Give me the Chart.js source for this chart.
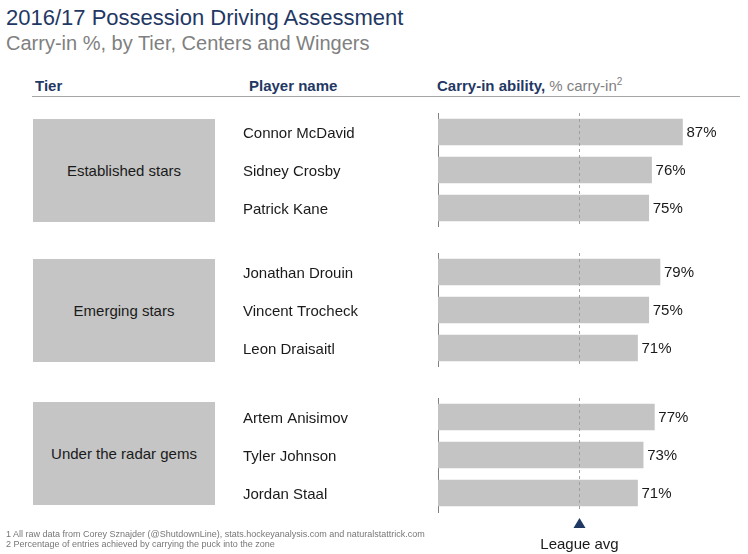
<!DOCTYPE html>
<html>
<head>
<meta charset="utf-8">
<script src="https://cdn.jsdelivr.net/npm/chart.js@4"></script>
<style>
  body { margin: 0; background: #fff; font-family: "Liberation Sans", Arial, sans-serif; }
  #page { position: relative; width: 748px; height: 554px; overflow: hidden; }
  .title { position: absolute; left: 6px; top: 5px; font-size: 22px; line-height: 25px; color: #1f3864; }
  .subtitle { position: absolute; left: 6px; top: 32px; font-size: 20px; line-height: 23px; color: #808080; }
  .head { position: absolute; top: 77px; font-size: 15px; line-height: 18px; font-weight: bold; color: #1f3864; }
  .head .light { font-weight: normal; color: #808080; }
  .head sup { font-size: 10px; line-height: 0; vertical-align: 6px; }
  .rule { position: absolute; left: 32px; top: 96px; width: 708px; height: 1px; background: #a6a6a6; }
  .tier { position: absolute; left: 33px; width: 182px; height: 103px; background: #c5c5c5;
          display: flex; align-items: center; justify-content: center; font-size: 15px; color: #1a1a1a; }
  .group { position: absolute; left: 243px; width: 505px; }
  .notes { position: absolute; left: 6px; top: 529px; font-size: 9px; line-height: 10px; color: #777; }
</style>
</head>
<body>
<div id="page">
  <div class="title">2016/17 Possession Driving Assessment</div>
  <div class="subtitle">Carry-in %, by Tier, Centers and Wingers</div>
  <div class="head" style="left:35px">Tier</div>
  <div class="head" style="left:249px">Player name</div>
  <div class="head" style="left:437px">Carry-in ability, <span class="light">% carry-in<sup>2</sup></span></div>
  <div class="rule"></div>
  <div id="tiers"></div>
  <div id="groups"></div>
  <div class="notes">1 All raw data from Corey Sznajder (@ShutdownLine), stats.hockeyanalysis.com and naturalstattrick.com<br>2 Percentage of entries achieved by carrying the puck into the zone</div>
</div>
<script>
const tiers = ["Established stars", "Emerging stars", "Under the radar gems"];
const players = [
  ["Connor McDavid", "Sidney Crosby", "Patrick Kane"],
  ["Jonathan Drouin", "Vincent Trocheck", "Leon Draisaitl"],
  ["Artem Anisimov", "Tyler Johnson", "Jordan Staal"]
];
const carryIn = [
  [87, 76, 75],
  [79, 75, 71],
  [77, 73, 71]
];
const leagueAvg = 50;

const groupTops = [113, 253, 398];
const tierTops = [119, 259, 402];

const barLabels = {
  id: "barLabels",
  afterDatasetsDraw(chart) {
    const ctx = chart.ctx;
    const ds = chart.data.datasets[0];
    ctx.save();
    ctx.font = '15px "Liberation Sans", Arial';
    ctx.fillStyle = "#1a1a1a";
    ctx.textBaseline = "middle";
    chart.getDatasetMeta(0).data.forEach((bar, i) => {
      ctx.fillText(ds.data[i] + "%", bar.x + 4, bar.y + 1);
    });
    ctx.restore();
  }
};

const avgLine = {
  id: "avgLine",
  afterDatasetsDraw(chart, args, opts) {
    const ctx = chart.ctx;
    const area = chart.chartArea;
    const x = Math.round(chart.scales.x.getPixelForValue(leagueAvg)) + 0.5;
    ctx.save();
    ctx.strokeStyle = "#a0a0a0";
    ctx.lineWidth = 1;
    ctx.setLineDash([3, 3]);
    ctx.beginPath();
    ctx.moveTo(x, area.top);
    ctx.lineTo(x, area.bottom);
    ctx.stroke();
    if (opts.marker) {
      ctx.setLineDash([]);
      ctx.fillStyle = "#1f3864";
      ctx.beginPath();
      ctx.moveTo(x, area.bottom + 6);
      ctx.lineTo(x - 6, area.bottom + 16);
      ctx.lineTo(x + 6, area.bottom + 16);
      ctx.closePath();
      ctx.fill();
      ctx.font = '15px "Liberation Sans", Arial';
      ctx.fillStyle = "#1a1a1a";
      ctx.textAlign = "center";
      ctx.textBaseline = "middle";
      ctx.fillText("League avg", x, area.bottom + 33);
    }
    ctx.restore();
  }
};

tiers.forEach((name, g) => {
  const box = document.createElement("div");
  box.className = "tier";
  box.style.top = tierTops[g] + "px";
  box.textContent = name;
  document.getElementById("tiers").appendChild(box);

  const last = g === tiers.length - 1;
  const wrap = document.createElement("div");
  wrap.className = "group";
  wrap.style.top = groupTops[g] + "px";
  wrap.style.height = (last ? 156 : 114) + "px";
  const canvas = document.createElement("canvas");
  wrap.appendChild(canvas);
  document.getElementById("groups").appendChild(wrap);

  new Chart(canvas, {
    type: "bar",
    data: {
      labels: players[g],
      datasets: [{
        data: carryIn[g],
        backgroundColor: "#c4c4c4",
        barThickness: 26
      }]
    },
    options: {
      indexAxis: "y",
      responsive: true,
      maintainAspectRatio: false,
      animation: false,
      layout: { padding: { left: 0, right: 29, top: 0, bottom: last ? 42 : 0 } },
      plugins: {
        legend: { display: false },
        tooltip: { enabled: false },
        avgLine: { marker: last }
      },
      scales: {
        x: { display: false, min: 0, max: 100 },
        y: {
          grid: { display: false },
          border: { display: true, color: "#7f7f7f", width: 1 },
          ticks: {
            crossAlign: "far",
            padding: 0,
            labelOffset: 2,
            color: "#1a1a1a",
            font: { family: '"Liberation Sans", Arial', size: 15 }
          },
          afterFit(scale) {
            scale.width = 195;
            scale.paddingTop = 0;
            scale.paddingBottom = 0;
          }
        }
      }
    },
    plugins: [barLabels, avgLine]
  });
});
</script>
</body>
</html>
